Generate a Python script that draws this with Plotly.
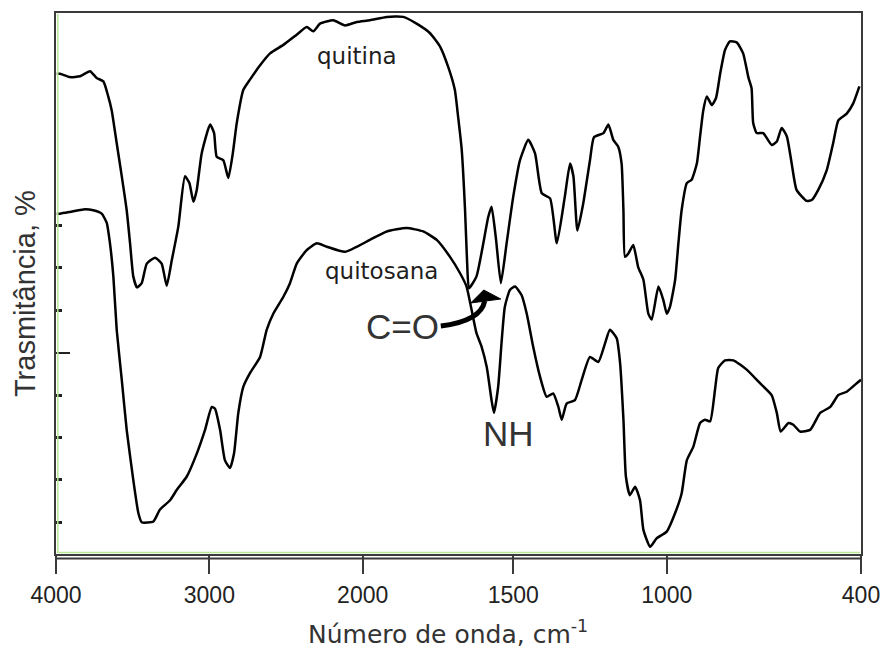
import numpy as np
import plotly.graph_objects as go

# ---------------- data ----------------
quitina_wn = [3995, 3974, 3909, 3843, 3778, 3735, 3691, 3659, 3637, 3604, 3571,
              3539, 3517, 3496, 3472, 3441, 3408, 3354, 3311, 3278, 3245,
              3202, 3159, 3130, 3104, 3082, 3050, 2995, 2969, 2952, 2909,
              2876, 2847, 2821, 2778, 2735, 2669, 2604, 2517, 2430, 2365,
              2322, 2278, 2191, 2115, 2039, 1976, 1920, 1865, 1821, 1777,
              1743, 1716, 1694, 1683, 1671, 1660, 1653, 1647, 1622, 1583,
              1572, 1557, 1541, 1522, 1500, 1478, 1451, 1429, 1407, 1380,
              1358, 1332, 1315, 1304, 1291, 1272, 1250, 1237, 1206, 1190,
              1174, 1158, 1147, 1141, 1136, 1125, 1109, 1093, 1076, 1060,
              1049, 1027, 1011, 1000, 990, 974, 964, 954, 938, 923,
              907, 897, 887, 876, 861, 848, 835, 820, 805, 784,
              764, 748, 738, 733, 722, 702, 676, 660, 645, 629,
              614, 599, 568, 552, 532, 506, 486, 470, 444, 424, 405]
quitina_T = [82.9, 82.9, 82.5, 82.6, 83.2, 82.4, 82.0, 80.2, 78.6, 74.7, 70.8,
             66.8, 62.9, 59.0, 57.7, 58.2, 60.5, 61.2, 60.5, 57.9, 60.9,
             64.9, 70.8, 70.0, 67.8, 69.2, 73.5, 76.9, 75.9, 73.1, 72.7,
             70.6, 73.5, 77.1, 81.0, 82.2, 83.9, 85.3, 86.3, 87.5, 88.4,
             87.9, 88.8, 89.2, 88.6, 89.0, 89.2, 89.6, 89.6, 88.8, 87.7,
             86.1, 83.7, 81.0, 77.8, 73.9, 66.8, 60.5, 57.6, 59.0, 66.0,
             67.2, 63.3, 58.2, 62.9, 68.4, 72.7, 75.1, 73.5, 68.8, 68.2,
             62.9, 68.4, 72.3, 70.8, 64.4, 67.6, 72.7, 75.4, 75.9, 76.9,
             75.1, 74.3, 72.3, 66.8, 61.3, 61.7, 62.7, 60.1, 58.6, 54.6,
             53.9, 57.8, 56.2, 54.6, 55.4, 58.6, 62.9, 66.8, 70.0, 70.4,
             72.3, 75.5, 78.6, 80.2, 79.2, 80.0, 82.9, 85.7, 86.7, 86.6,
             85.3, 82.5, 81.2, 77.1, 75.9, 75.9, 74.5, 74.9, 76.5, 75.5,
             72.3, 69.2, 67.9, 68.0, 69.2, 71.5, 74.7, 77.4, 78.2, 79.4, 81.4]

quitosana_wn = [3995, 3974, 3909, 3822, 3757, 3702, 3669, 3648, 3626, 3604, 3571,
                3539, 3496, 3463, 3441, 3365, 3322, 3256, 3213, 3147, 3082,
                3028, 2984, 2963, 2930, 2898, 2865, 2839, 2811, 2778, 2735,
                2669, 2626, 2583, 2517, 2474, 2430, 2365, 2299, 2234, 2115,
                1976, 1920, 1854, 1799, 1754, 1710, 1677, 1655, 1638, 1622,
                1605, 1588, 1572, 1564, 1550, 1539, 1528, 1511, 1494, 1473,
                1456, 1435, 1413, 1391, 1370, 1353, 1342, 1326, 1299, 1277,
                1250, 1223, 1201, 1185, 1163, 1152, 1141, 1133, 1120, 1103,
                1087, 1076, 1054, 1033, 1000, 974, 954, 938, 918, 897,
                882, 866, 851, 841, 820, 794, 753, 712, 676, 660,
                648, 624, 609, 588, 557, 526, 495, 470, 444, 413, 400]
quitosana_T = [66.4, 66.4, 66.6, 66.9, 66.8, 66.4, 65.3, 62.9, 59.0, 52.7, 46.8,
               40.9, 35.0, 31.1, 30.0, 30.1, 31.5, 32.6, 33.8, 35.4, 38.1,
               40.9, 43.6, 43.4, 40.9, 37.3, 36.4, 38.1, 42.9, 46.0, 47.6,
               49.5, 52.7, 54.6, 56.6, 58.2, 60.5, 62.1, 62.9, 62.5, 61.9,
               63.3, 64.3, 64.7, 64.3, 63.3, 61.3, 59.4, 57.8, 55.0, 52.3,
               50.7, 48.3, 44.4, 42.9, 46.0, 51.1, 55.4, 57.4, 57.8, 56.8,
               54.6, 50.7, 47.2, 44.8, 45.2, 43.6, 42.1, 44.0, 44.4, 46.8,
               49.5, 48.9, 51.1, 52.7, 51.7, 48.8, 42.1, 35.4, 33.2, 34.2,
               32.6, 29.1, 27.1, 28.1, 28.9, 31.1, 33.4, 37.3, 38.9, 41.7,
               42.1, 41.9, 45.6, 48.2, 49.1, 49.1, 48.0, 46.4, 45.0, 42.9,
               40.7, 41.7, 41.5, 40.7, 40.9, 42.9, 43.6, 45.0, 45.4, 46.4, 46.8]

x_tick_values = [4000, 3000, 2000, 1500, 1000, 400]
x_tick_labels = ["4000", "3000", "2000", "1500", "1000", "400"]
y_major_ticks = [50]
y_minor_ticks = [30, 35, 40, 45, 55, 60, 65]

# ------------- axis scale: instrument scale change at 2000 cm-1 -------------
SCALE_WN = [400, 1000, 1500, 2000, 3000, 4000]
SCALE_POS = [5.250, 3.983, 2.982, 2.0, 1.0, 0.0]


def wn_to_axis(w):
    return np.interp(np.asarray(w, dtype=float), SCALE_WN, SCALE_POS)


W, H = 887, 649
L, R, T, B = 56, 861.5, 13, 554


def px(x):
    return (x - L) / (R - L)


def py(y):
    return (B - y) / (B - T)


fig = go.Figure()
for wn, tr in [(quitina_wn, quitina_T), (quitosana_wn, quitosana_T)]:
    fig.add_trace(go.Scatter(x=wn_to_axis(wn), y=tr, mode="lines",
                             line=dict(color="black", width=2.5,
                                       shape="spline", smoothing=0.5),
                             showlegend=False, hoverinfo="skip"))

frame = "#3a3a3a"
fig.update_layout(
    width=W, height=H,
    margin=dict(l=L, r=W - R, t=T, b=H - B, pad=0),
    paper_bgcolor="white", plot_bgcolor="white",
    xaxis=dict(range=[0, 5.25], tickmode="array", automargin=False,
               tickvals=wn_to_axis(x_tick_values), ticktext=x_tick_labels,
               ticks="outside", ticklen=18, tickwidth=2, tickcolor=frame,
               showline=True, mirror=True, linecolor=frame, linewidth=2,
               showgrid=False, zeroline=False,
               tickfont=dict(family="Liberation Sans", size=23, color="#222"),
               ticklabelstandoff=1),
    yaxis=dict(range=[26.26, 90.06], tickmode="array", tickvals=y_major_ticks,
               automargin=False,
               showticklabels=False, ticks="inside", ticklen=14, tickwidth=1.5,
               tickcolor="#222",
               minor=dict(tickmode="array", tickvals=y_minor_ticks,
                          ticks="inside", ticklen=6, tickwidth=2.5,
                          tickcolor="#222"),
               showline=True, mirror=True, linecolor=frame, linewidth=2,
               showgrid=False, zeroline=False),
)

shapes = [
    # green inner edges of the frame
    dict(type="line", xref="paper", yref="paper", x0=px(57.8), x1=px(57.8),
         y0=py(B - 1), y1=py(T + 1), line=dict(color="#b9e898", width=1.5)),
    dict(type="line", xref="paper", yref="paper", x0=px(L + 1), x1=px(R - 1),
         y0=py(552.5), y1=py(552.5), line=dict(color="#b9e898", width=1.5)),
    # second scale line under the frame
    dict(type="line", xref="paper", yref="paper", x0=0, x1=1,
         y0=py(558.5), y1=py(558.5), line=dict(color=frame, width=2)),
    # curved arrow from C=O
    dict(type="path", xref="paper", yref="paper",
         path="M {:.4f},{:.4f} Q {:.4f},{:.4f} {:.4f},{:.4f}".format(
             px(441), py(326), px(481), py(321), px(485), py(301)),
         line=dict(color="black", width=5)),
    dict(type="path", xref="paper", yref="paper",
         path="M {:.4f},{:.4f} L {:.4f},{:.4f} L {:.4f},{:.4f} Z".format(
             px(471), py(303), px(484), py(290), px(501), py(299)),
         fillcolor="black", line=dict(color="black", width=1)),
]
fig.update_layout(shapes=shapes)

ann = dict(xref="paper", yref="paper", showarrow=False,
           xanchor="center", yanchor="middle")
txt = "#1e1e1e"
fig.add_annotation(text="quitina", x=px(357.5), y=py(56),
                   font=dict(family="DejaVu Sans", size=23, color=txt), **ann)
fig.add_annotation(text="quitosana", x=px(381.5), y=py(271),
                   font=dict(family="DejaVu Sans", size=23, color=txt), **ann)
fig.add_annotation(text="C=O", x=px(402.5), y=py(326.5),
                   font=dict(family="Liberation Sans", size=35, color="#333"), **ann)
fig.add_annotation(text="NH", x=px(508.5), y=py(433),
                   font=dict(family="Liberation Sans", size=35, color="#333"), **ann)
fig.add_annotation(text="Trasmitância, %", x=px(25), y=py(294), textangle=-90,
                   font=dict(family="Liberation Sans", size=29, color="#333"), **ann)
fig.add_annotation(text="Número de onda, cm<sup>-1</sup>", x=px(448), y=py(632),
                   font=dict(family="DejaVu Sans", size=25, color="#333"), **ann)

fig.write_html("out.html", config={"displayModeBar": False},
               post_script="document.body.style.margin='0';")
